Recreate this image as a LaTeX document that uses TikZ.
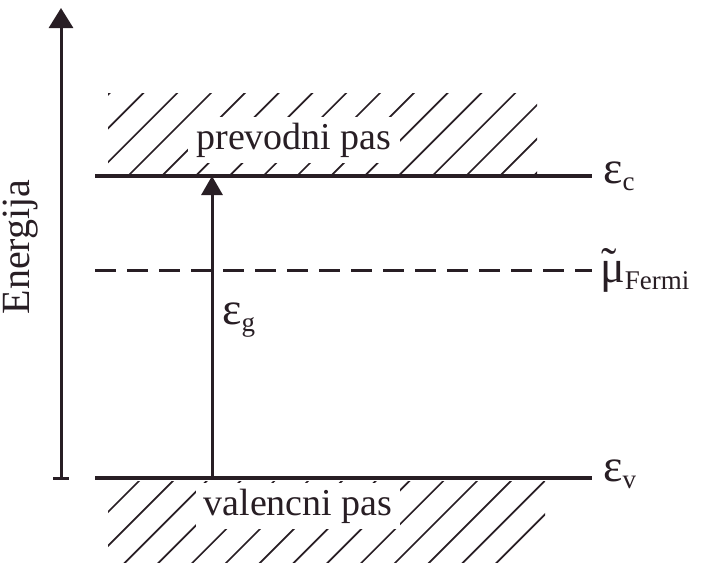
\documentclass[tikz,border=0pt]{standalone}
\usepackage{fontspec}
\setmainfont{Liberation Serif}
\usetikzlibrary{arrows.meta}
\definecolor{ink}{RGB}{40,30,36}
\newcommand{\bigsym}[1]{{\fontsize{46}{46}\selectfont #1}}
\newcommand{\subtxt}[1]{\raisebox{-7pt}{\fontsize{27}{27}\selectfont #1}}
\begin{document}
\begin{tikzpicture}[x=1pt,y=-1pt,
  level/.style={draw=ink,line width=3.6pt},
  hatch/.style={draw=ink,line width=1.7pt},
  bandtext/.style={fill=white,text=ink,inner xsep=8pt,inner ysep=6pt,font=\fontsize{38}{38}\selectfont},
  lbl/.style={text=ink,inner sep=0pt,anchor=west},
  axis/.style={draw=ink,line width=3pt}]
\fill[white] (0,0) rectangle (701,566);
\useasboundingbox (0,0) rectangle (701,566);
% hatching
\begin{scope}
\clip (108,93) rectangle (537,174);
\foreach \i in {-4,...,13} \draw[hatch] (130+33.8*\i-40,214) -- ++(200,-200);
\end{scope}
\begin{scope}
\clip (108,481) rectangle (545,562);
\foreach \i in {-4,...,13} \draw[hatch] (140+33.8*\i-100,580) -- ++(200,-200);
\end{scope}
\node[bandtext] (cband) at (294,140) {prevodni pas};
\node[bandtext] (vband) at (298,506) {valencni pas};
% coordinates
\coordinate (cL) at (95,176); \coordinate (cR) at (592,176);
\coordinate (fL) at (95,270); \coordinate (fR) at (592,270);
\coordinate (vL) at (95,478); \coordinate (vR) at (592,478);
\coordinate (gB) at (212,478); \coordinate (gT) at (212,176);
\coordinate (aB) at (61,478); \coordinate (aT) at (61,8);
\coordinate (tL) at (53,478); \coordinate (tR) at (69,478);
% levels
\draw[level] (cL) -- (cR);
\draw[level] (vL) -- (vR);
\draw[level,line width=3pt,dash pattern=on 21pt off 11pt] (fL) -- (fR);
% gap arrow
\draw[axis,-{Triangle[width=21pt,length=19pt]}] (gB) -- (gT);
% energy axis
\draw[axis,-{Triangle[width=24pt,length=20pt]}] (aB) -- (aT);
\draw[axis] (tL) -- (tR);
\node[text=ink,rotate=90,font=\fontsize{40}{40}\selectfont,inner sep=0pt] (en) at (21,247) {Energija};
% labels
\node[lbl] (ec) at (603,176) {\bigsym{ε}\subtxt{c}};
\node[lbl] (mf) at (600,270) {\bigsym{\rlap{\hspace{1pt}\raisebox{3pt}{\char"02DC}}μ}\subtxt{Fermi}};
\node[lbl] (ev) at (603,474) {\bigsym{ε}\subtxt{v}};
\node[lbl] (eg) at (222,320) {\bigsym{ε}\subtxt{g}};
\end{tikzpicture}
\end{document}
